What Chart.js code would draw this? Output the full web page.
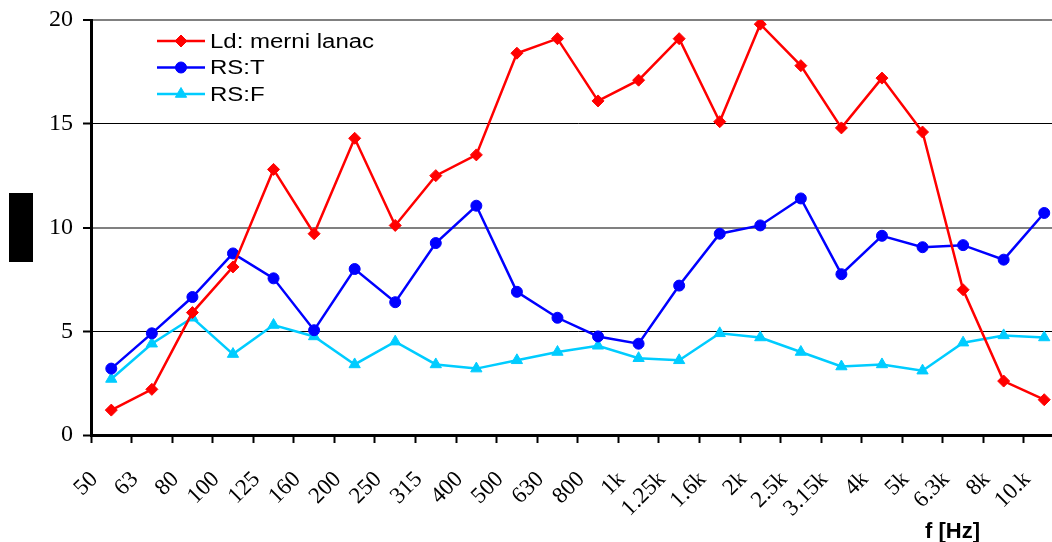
<!DOCTYPE html>
<html>
<head>
<meta charset="utf-8">
<script src="https://cdn.jsdelivr.net/npm/chart.js@4"></script>
<style>
  html, body { margin: 0; padding: 0; background: #fff; overflow: hidden; }
  #wrap { width: 1072px; height: 542px; }
</style>
</head>
<body>
<div id="wrap"><canvas id="chart"></canvas></div>
<script>
// Frequency bands on the x axis
const bands = ["50", "63", "80", "100", "125", "160", "200", "250", "315", "400", "500", "630",
  "800", "1k", "1.25k", "1.6k", "2k", "2.5k", "3.15k", "4k", "5k", "6.3k", "8k", "10.k"];

// Ld: merni lanac
const ldValues = [1.2, 2.2, 5.9, 8.1, 12.8, 9.7, 14.3, 10.1, 12.5, 13.5, 18.4, 19.1,
  16.1, 17.1, 19.1, 15.1, 19.8, 17.8, 14.8, 17.2, 14.6, 7.0, 2.6, 1.7];

// RS:T
const rsTValues = [3.2, 4.9, 6.65, 8.75, 7.55, 5.05, 8.0, 6.4, 9.25, 11.05, 6.9, 5.65,
  4.75, 4.4, 7.2, 9.7, 10.1, 11.4, 7.75, 9.6, 9.05, 9.15, 8.45, 10.7];

// RS:F
const rsFValues = [2.7, 4.4, 5.65, 3.9, 5.3, 4.75, 3.4, 4.5, 3.4, 3.2, 3.6, 4.0,
  4.3, 3.7, 3.6, 4.9, 4.7, 4.0, 3.3, 3.4, 3.1, 4.45, 4.8, 4.7];

const yTicks = [0, 5, 10, 15, 20];

// Legend drawn inside the plot, top left
const insideLegend = {
  id: "insideLegend",
  afterDraw(chart) {
    const ctx = chart.ctx;
    const area = chart.chartArea;
    ctx.save();
    chart.data.datasets.forEach(function (ds, i) {
      const x0 = area.left + 66;
      const y = area.top + 21 + i * 26.5;
      ctx.strokeStyle = ds.borderColor;
      ctx.fillStyle = ds.backgroundColor;
      ctx.lineWidth = ds.borderWidth;
      ctx.beginPath();
      ctx.moveTo(x0, y);
      ctx.lineTo(x0 + 48, y);
      ctx.stroke();
      ctx.lineWidth = 1;
      Chart.helpers.drawPoint(ctx, { pointStyle: ds.pointStyle, radius: ds.pointRadius, borderWidth: 1, rotation: 0 }, x0 + 24, y);

      ctx.save();
      ctx.translate(x0 + 53, y);
      ctx.scale(1.2, 1);
      ctx.fillStyle = "#000";
      ctx.font = "20px Arial";
      ctx.textBaseline = "middle";
      ctx.fillText(ds.label, 0, 1);
      ctx.restore();
    });
    ctx.restore();
  }
};

// Axis unit under the x labels and the blacked-out y title box
const extras = {
  id: "extras",
  afterDraw(chart) {
    const ctx = chart.ctx;
    const area = chart.chartArea;
    const mid = (area.top + area.bottom) / 2;
    ctx.save();
    ctx.fillStyle = "#000";
    ctx.fillRect(chart.scales.y.left + 9, mid - 34.5, 24, 69);
    ctx.font = "bold 22px Arial";
    ctx.textBaseline = "alphabetic";
    ctx.fillText("f [Hz]", 925, 538);
    ctx.restore();
  }
};

new Chart(document.getElementById("chart"), {
  type: "line",
  data: {
    labels: bands,
    datasets: [
      {
        label: "Ld: merni lanac",
        data: ldValues,
        borderColor: "#FF0000",
        backgroundColor: "#FF0000",
        borderWidth: 2.5,
        pointStyle: "rectRot",
        pointRadius: 6,
        pointBorderWidth: 1,
      },
      {
        label: "RS:T",
        data: rsTValues,
        borderColor: "#0000FF",
        backgroundColor: "#0000FF",
        borderWidth: 2.5,
        pointStyle: "circle",
        pointRadius: 5.5,
        pointBorderWidth: 1,
      },
      {
        label: "RS:F",
        data: rsFValues,
        borderColor: "#00CCFF",
        backgroundColor: "#00CCFF",
        borderWidth: 2.5,
        pointStyle: "triangle",
        pointRadius: 6.5,
        pointBorderWidth: 1,
      },
    ],
  },
  options: {
    responsive: true,
    maintainAspectRatio: false,
    animation: false,
    layout: { padding: { top: 20, right: 1.7, left: 0, bottom: 0 } },
    plugins: {
      legend: { display: false },
      tooltip: { enabled: false },
    },
    scales: {
      x: {
        offset: true,
        grid: {
          display: true,
          drawOnChartArea: false,
          drawTicks: true,
          offset: true,
          tickLength: 8,
          tickWidth: 2,
          tickColor: "#000",
        },
        border: { display: true, color: "#000", width: 3 },
        ticks: {
          autoSkip: false,
          minRotation: 45,
          maxRotation: 45,
          padding: 23,
          labelOffset: -17,
          color: "#000",
          font: { family: "Liberation Serif", size: 23 },
        },
        afterFit(scale) {
          scale.height = 107;
          scale.paddingLeft = 0;
          scale.paddingRight = 0;
        },
      },
      y: {
        min: 0,
        max: 20,
        afterBuildTicks(scale) {
          scale.ticks = yTicks.map(v => ({ value: v }));
        },
        grid: {
          color: ctx => (ctx.tick && (ctx.tick.value === 20 || ctx.tick.value === 10) ? "#808080" : "#000"),
          lineWidth: ctx => (ctx.tick && (ctx.tick.value === 20 || ctx.tick.value === 10) ? 2 : 1),
          tickLength: 8,
          tickWidth: 2,
          tickColor: "#000",
        },
        border: { display: true, color: "#000", width: 3 },
        ticks: {
          padding: 10,
          color: "#000",
          font: { family: "Liberation Serif", size: 24 },
        },
        title: {
          display: true,
          text: "L [dB]",
          color: "#000",
          font: { family: "Arial", size: 20, weight: "bold" },
          padding: { top: 9, bottom: 0 },
        },
        afterFit(scale) {
          scale.width = 91;
          scale.paddingTop = 0;
          scale.paddingBottom = 0;
        },
      },
    },
  },
  plugins: [insideLegend, extras],
});
</script>
</body>
</html>
